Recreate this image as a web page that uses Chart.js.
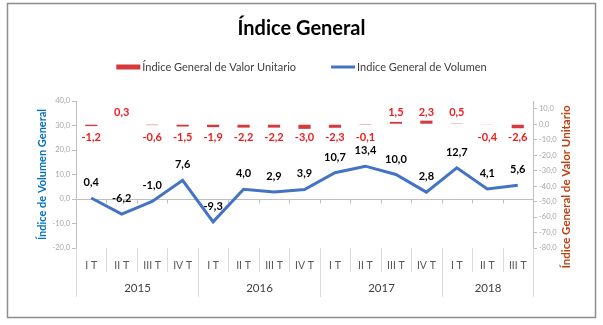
<!DOCTYPE html>
<html lang="es">
<head>
  <meta charset="UTF-8">
  <title>Índice General</title>
  <script src="https://cdn.jsdelivr.net/npm/chart.js"></script>
  <style>
    body { margin: 0; background: #fff; }
    canvas { display: block; }
  </style>
</head>
<body>
  <canvas id="chart" width="603" height="325"></canvas>

  <script>
    const quarters = ['I T', 'II T', 'III T', 'IV T', 'I T', 'II T', 'III T', 'IV T', 'I T', 'II T', 'III T', 'IV T', 'I T', 'II T', 'III T'];
    const years = ['2015', '2016', '2017', '2018'];
    const quartersPerYear = [4, 4, 4, 3];
    const valorUnitario = [-1.2, 0.3, -0.6, -1.5, -1.9, -2.2, -2.2, -3.0, -2.3, -0.1, 1.5, 2.3, 0.5, -0.4, -2.6];
    const volumen = [0.4, -6.2, -1.0, 7.6, -9.3, 4.0, 2.9, 3.9, 10.7, 13.4, 10.0, 2.8, 12.7, 4.1, 5.6];
    const volumenTicks = [-20, -10, 0, 10, 20, 30, 40];
    const valorTicks = [-80, -70, -60, -50, -40, -30, -20, -10, 0, 10];

    const FONT = 'Lato, "Noto Sans", sans-serif';
    const fmt = v => v.toFixed(1).replace('.', ',');

    // leyenda, etiquetas de datos, niveles del eje X y marco
    const decor = {
      id: 'decor',
      beforeDatasetsDraw(chart) {
        const { ctx, chartArea: a, scales: { x, y } } = chart;
        const y0 = Math.round(y.getPixelForValue(0)) + 0.5;
        const step = x.getPixelForValue(1) - x.getPixelForValue(0);
        ctx.save();
        ctx.strokeStyle = '#bfbfbf';
        ctx.lineWidth = 1;
        ctx.beginPath();
        ctx.moveTo(a.left, y0);
        ctx.lineTo(a.right, y0);
        for (let i = 0; i <= quarters.length; i++) {
          const px = Math.round(x.getPixelForValue(0) - step / 2 + i * step) + 0.5;
          ctx.moveTo(px, y0);
          ctx.lineTo(px, y0 + 4);
        }
        ctx.stroke();
        ctx.restore();
      },
      afterDraw(chart) {
        const { ctx, chartArea: a, scales: { x } } = chart;
        const step = x.getPixelForValue(1) - x.getPixelForValue(0);
        const edge = i => Math.round(x.getPixelForValue(0) - step / 2 + i * step) + 0.5;
        ctx.save();

        // separadores trimestre / año
        ctx.strokeStyle = '#d9d9d9';
        ctx.lineWidth = 1;
        ctx.beginPath();
        let yearStarts = [0];
        quartersPerYear.forEach(n => yearStarts.push(yearStarts[yearStarts.length - 1] + n));
        for (let i = 0; i <= quarters.length; i++) {
          const isYear = yearStarts.includes(i);
          ctx.moveTo(edge(i), a.bottom);
          ctx.lineTo(edge(i), isYear ? 297 : 272);
        }
        ctx.stroke();

        ctx.fillStyle = '#404040';
        ctx.font = '11.5px ' + FONT;
        ctx.textAlign = 'center';
        ctx.textBaseline = 'alphabetic';
        years.forEach((yr, k) => {
          const cx = (edge(yearStarts[k]) + edge(yearStarts[k + 1])) / 2;
          ctx.fillText(yr, cx, 292);
        });

        // etiquetas de barras
        ctx.font = 'bold 11px ' + FONT;
        ctx.fillStyle = '#ee1c1c';
        chart.getDatasetMeta(0).data.forEach((el, i) => {
          const v = valorUnitario[i];
          ctx.fillText(fmt(v), el.x, v >= 0 ? el.base - 7.5 : el.base + 16);
        });
        // etiquetas de línea
        ctx.fillStyle = '#000';
        chart.getDatasetMeta(1).data.forEach((el, i) => {
          ctx.fillText(fmt(volumen[i]), el.x, el.y - 12);
        });

        // leyenda
        const ds = chart.data.datasets;
        ctx.font = '11px ' + FONT;
        const widths = ds.map(d => 26 + ctx.measureText(d.label).width);
        const gap = 35;
        let lx = 301.5 - (widths[0] + widths[1] + gap) / 2;
        ctx.textAlign = 'left';
        ctx.textBaseline = 'middle';
        ds.forEach((d, i) => {
          if (d.type === 'bar') {
            ctx.fillStyle = d.backgroundColor;
            ctx.fillRect(lx, 64.5, 24, 5);
          } else {
            ctx.strokeStyle = d.borderColor;
            ctx.lineWidth = 3;
            ctx.beginPath();
            ctx.moveTo(lx, 67);
            ctx.lineTo(lx + 24, 67);
            ctx.stroke();
          }
          ctx.fillStyle = '#404040';
          ctx.fillText(d.label, lx + 26, 67);
          lx += widths[i] + gap;
        });

        // título eje derecho
        ctx.save();
        ctx.translate(566, 187);
        ctx.rotate(-Math.PI / 2);
        ctx.font = 'bold 11.5px ' + FONT;
        ctx.fillStyle = '#bf3f0f';
        ctx.textAlign = 'center';
        ctx.fillText('Índice General de Valor Unitario', 0, 0);
        ctx.restore();

        // marco
        ctx.strokeStyle = '#8c8c8c';
        ctx.lineWidth = 1.5;
        ctx.strokeRect(7.5, 3.5, 588, 314);
        ctx.restore();
      }
    };

    new Chart(document.getElementById('chart'), {
      data: {
        labels: quarters,
        datasets: [
          {
            type: 'bar',
            label: 'Índice General de Valor Unitario',
            data: valorUnitario,
            yAxisID: 'y2',
            backgroundColor: '#d5393c',
            barPercentage: 0.4,
            categoryPercentage: 1,
            order: 2
          },
          {
            type: 'line',
            label: 'Indice General de Volumen',
            data: volumen,
            yAxisID: 'y',
            borderColor: '#4472c4',
            borderWidth: 3,
            pointRadius: 0,
            tension: 0,
            order: 1
          }
        ]
      },
      options: {
        responsive: false,
        animation: false,
        layout: { padding: 0 },
        plugins: {
          legend: { display: false },
          tooltip: { enabled: false },
          title: {
            display: true,
            text: 'Índice General',
            color: '#000',
            font: { family: FONT, size: 20, weight: 'bold' },
            padding: { top: 17, bottom: 60 }
          }
        },
        scales: {
          x: {
            position: 'bottom',
            grid: { display: false, drawTicks: false },
            border: { display: false },
            ticks: { color: '#595959', font: { family: FONT, size: 10.5 }, padding: 11, maxRotation: 0, autoSkip: false },
            afterFit: s => { s.height = 77; }
          },
          y: {
            position: 'left',
            min: -20,
            max: 40,
            afterBuildTicks: s => { s.ticks = volumenTicks.map(v => ({ value: v })); },
            grid: { drawOnChartArea: false, tickLength: 4, color: '#bfbfbf' },
            border: { color: '#bfbfbf' },
            ticks: { color: '#a6a6a6', font: { family: FONT, size: 7.5 }, padding: 2, callback: v => fmt(v) },
            title: {
              display: true,
              text: 'Índice de Volumen General',
              color: '#0070c0',
              font: { family: FONT, size: 11, weight: 'bold' },
              padding: { top: 35.4, bottom: 0 }
            },
            afterFit: s => { s.width = 76; }
          },
          y2: {
            position: 'right',
            min: -80,
            max: 15,
            afterBuildTicks: s => { s.ticks = valorTicks.map(v => ({ value: v })); },
            grid: { drawOnChartArea: false, tickLength: 4, color: '#bfbfbf' },
            border: { color: '#bfbfbf' },
            ticks: { color: '#a6a6a6', font: { family: FONT, size: 7.5 }, padding: 2, callback: v => fmt(v) },
            afterFit: s => { s.width = 70; }
          }
        }
      },
      plugins: [decor]
    });
  </script>
</body>
</html>
